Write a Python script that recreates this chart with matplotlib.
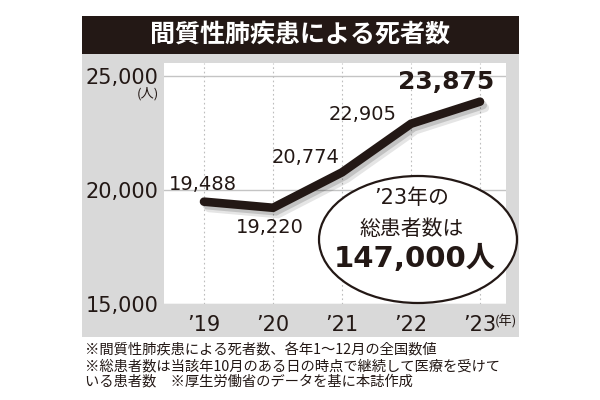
import matplotlib
matplotlib.use("Agg")
import matplotlib.pyplot as plt
import matplotlib.patheffects as pe
from matplotlib.patches import Rectangle, Ellipse

# ---- data ----
years = ["’19", "’20", "’21", "’22", "’23"]
deaths = [19488, 19220, 20774, 22905, 23875]
labels = ["19,488", "19,220", "20,774", "22,905", "23,875"]
yticks = [15000, 20000, 25000]
ytick_labels = ["15,000", "20,000", "25,000"]
title = "間質性肺疾患による死者数"
bubble_lines = ["’23年の", "総患者数は", "147,000人"]
notes = [
    "※間質性肺疾患による死者数、各年1〜12月の全国数値",
    "※総患者数は当該年10月のある日の時点で継続して医療を受けて",
    "いる患者数　※厚生労働省のデータを基に本誌作成",
]

INK = "#231815"
GRAY = "#d9d9d9"
FAM = ["DejaVu Sans", "Noto Sans CJK JP"]
JFAM = ["Noto Sans CJK JP", "DejaVu Sans"]

fig = plt.figure(figsize=(6, 4), dpi=100)
fig.patch.set_facecolor("white")

# background panels
fig.patches.append(Rectangle((82/600, 1-337/400), (519-82)/600, (337-54)/400,
                             transform=fig.transFigure, facecolor=GRAY, edgecolor="none", zorder=-10))
fig.patches.append(Rectangle((82/600, 1-54/400), (519-82)/600, (54-16)/400,
                             transform=fig.transFigure, facecolor=INK, edgecolor="none", zorder=-10))
fig.text(300/600, 1-35/400, title, color="white", fontsize=18, fontweight="bold",
         family=JFAM, ha="center", va="center")

ax = fig.add_axes([164/600, 1-304/400, (506-164)/600, (304-63)/400])
ax.set_zorder(1)
ax.set_facecolor("white")
x = list(range(len(years)))
ax.set_xlim(-0.58, 4.377)
ax.set_ylim(15000, 25570)

for s in ax.spines.values():
    s.set_visible(False)

# grid
for yv in yticks:
    ax.axhline(yv, color="#c4c4c4", lw=1.0, zorder=1)
for xv in x:
    ax.axvline(xv, color="#bdbdbd", lw=0.8, ls=(0, (1.5, 2.5)), zorder=1)

ax.set_yticks(yticks)
ax.set_yticklabels(ytick_labels, fontsize=15, color=INK, family=FAM)
ax.set_xticks(x)
ax.set_xticklabels(years, fontsize=15, color=INK, family=FAM)
ax.tick_params(axis="both", length=0)
ax.tick_params(axis="y", pad=4)
ax.tick_params(axis="x", pad=8)

# line with shadow
ax.plot(x, deaths, color=INK, lw=6.2, solid_capstyle="round", solid_joinstyle="miter", zorder=4,
        path_effects=[pe.SimpleLineShadow(offset=(3.5, -4.5), shadow_color="black", alpha=0.10, rho=1),
                      pe.SimpleLineShadow(offset=(2, -2.5), shadow_color="black", alpha=0.15, rho=1),
                      pe.Normal()])

# data labels
offsets = [(-1, 17), (-3, -20), (-36, 15), (-48, 9), (-34, 20)]
for i, (xv, yv, lab, off) in enumerate(zip(x, deaths, labels, offsets)):
    last = i == len(x) - 1
    ax.annotate(lab, (xv, yv), xytext=off, textcoords="offset pixels",
                ha="center", va="center", fontsize=18 if last else 14,
                fontweight="bold" if last else "normal", color=INK, family=FAM, zorder=6)

# unit labels
fig.text(159/600, 1-94/400, "(人)", fontsize=9.5, color=INK, family=JFAM, ha="right", va="center")
fig.text(495/600, 1-322/400, "(年)", fontsize=9.5, color=INK, family=JFAM, ha="left", va="center")

# bubble
ecx = (418 - 204) / 69
ecy = 15000 + (304 - 239.5) / 22.8 * 1000
ell = Ellipse((ecx, ecy), 198 / 69, 127 / 22.8 * 1000, facecolor="white", edgecolor=INK,
              lw=1.6, zorder=5, clip_on=False)
ax.add_patch(ell)
bub_off = [(-6, 41), (-6, 10), (-3, -19)]
bub_size = [15, 15, 21]
bub_weight = ["normal", "normal", "bold"]
for t, off, fs, fw in zip(bubble_lines, bub_off, bub_size, bub_weight):
    ax.annotate(t, (ecx, ecy), xytext=off, textcoords="offset pixels", ha="center", va="center",
                fontsize=fs, fontweight=fw, color=INK, family=FAM, zorder=7, annotation_clip=False)

# footnotes
for i, n in enumerate(notes):
    fig.text(85/600, 1-[350, 366, 381][i]/400, n, fontsize=10.3, color=INK, family=JFAM,
             ha="left", va="center")

fig.savefig("out.png", dpi=100)
